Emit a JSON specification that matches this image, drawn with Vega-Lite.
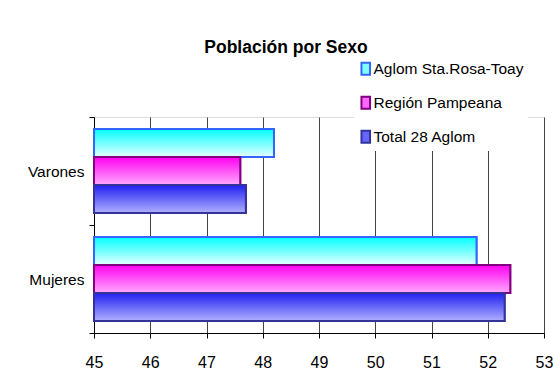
{
  "$schema": "https://vega.github.io/schema/vega-lite/v6.json",
  "width": 450,
  "height": 216,
  "autosize": {"type": "none"},
  "padding": {"left": 94, "top": 117, "right": 9, "bottom": 57},
  "background": "white",
  "title": {
    "text": "Población por Sexo",
    "font": "Liberation Sans",
    "fontSize": 17.5,
    "fontWeight": "bold",
    "color": "black",
    "anchor": "middle",
    "frame": "group",
    "baseline": "alphabetic",
    "dx": -33,
    "offset": -13
  },
  "data": {
    "values": [
      {"Sexo": "Varones", "Serie": "Aglom Sta.Rosa-Toay", "Valor": 48.2},
      {"Sexo": "Varones", "Serie": "Región Pampeana", "Valor": 47.6},
      {"Sexo": "Varones", "Serie": "Total 28 Aglom", "Valor": 47.7},
      {"Sexo": "Mujeres", "Serie": "Aglom Sta.Rosa-Toay", "Valor": 51.8},
      {"Sexo": "Mujeres", "Serie": "Región Pampeana", "Valor": 52.4},
      {"Sexo": "Mujeres", "Serie": "Total 28 Aglom", "Valor": 52.3}
    ]
  },
  "encoding": {
    "y": {
      "field": "Sexo",
      "type": "nominal",
      "sort": ["Varones", "Mujeres"],
      "scale": {"paddingInner": 0, "paddingOuter": 0},
      "axis": {
        "title": null,
        "tickBand": "extent",
        "ticks": true,
        "tickSize": 5,
        "tickColor": "black",
        "domainColor": "black",
        "labelFont": "Liberation Sans",
        "labelFontSize": 15.5,
        "labelColor": "black",
        "labelPadding": 5,
        "grid": false
      }
    },
    "yOffset": {
      "field": "Serie",
      "type": "nominal",
      "sort": ["Aglom Sta.Rosa-Toay", "Región Pampeana", "Total 28 Aglom"],
      "scale": {"domain": ["Aglom Sta.Rosa-Toay", "Región Pampeana", "Total 28 Aglom"], "paddingInner": 0, "paddingOuter": 0.4286}
    },
    "x": {
      "field": "Valor",
      "type": "quantitative",
      "stack": null,
      "scale": {"domain": [45, 53], "zero": false, "nice": false},
      "axis": {
        "title": null,
        "values": [45, 46, 47, 48, 49, 50, 51, 52, 53],
        "grid": true,
        "gridColor": "#444444",
        "gridWidth": 1,
        "domainColor": "black",
        "tickColor": "black",
        "tickSize": 5,
        "labelFont": "Liberation Sans",
        "labelFontSize": 16,
        "labelColor": "black",
        "labelPadding": 16,
        "labelFlush": false,
        "labelOverlap": false
      }
    }
  },
  "layer": [
    {
      "mark": {"type": "bar", "strokeWidth": 2},
      "encoding": {
        "fill": {
          "field": "Serie",
          "type": "nominal",
          "scale": {"domain": ["Aglom Sta.Rosa-Toay", "Región Pampeana", "Total 28 Aglom"], "range": ["#80FFFF", "#FF66FF", "#6666FF"]},
          "legend": {
            "title": null,
            "orient": "none",
            "legendX": 260,
            "legendY": -60,
            "direction": "vertical",
            "labelFont": "Liberation Sans",
            "labelFontSize": 15.5,
            "labelColor": "black",
            "labelLimit": 300,
            "symbolType": "M-0.7,-1H0.7V1H-0.7Z",
            "symbolSize": 150,
            "symbolStrokeWidth": 2,
            "rowPadding": 13,
            "labelOffset": 0,
            "fillColor": "white",
            "padding": 4
          }
        },
        "stroke": {
          "field": "Serie",
          "type": "nominal",
          "scale": {"domain": ["Aglom Sta.Rosa-Toay", "Región Pampeana", "Total 28 Aglom"], "range": ["#3366FF", "#800080", "#333399"]},
          "legend": {
            "title": null,
            "orient": "none",
            "legendX": 260,
            "legendY": -60,
            "direction": "vertical",
            "labelFont": "Liberation Sans",
            "labelFontSize": 15.5,
            "labelColor": "black",
            "labelLimit": 300,
            "symbolType": "M-0.7,-1H0.7V1H-0.7Z",
            "symbolSize": 150,
            "symbolStrokeWidth": 2,
            "rowPadding": 13,
            "labelOffset": 0,
            "fillColor": "white",
            "padding": 4
          }
        }
      }
    },
    {
      "transform": [{"filter": "datum.Serie === 'Aglom Sta.Rosa-Toay'"}],
      "mark": {
        "type": "bar",
        "strokeWidth": 2,
        "stroke": "#3366FF",
        "color": {"gradient": "linear", "x1": 0, "y1": 0, "x2": 0, "y2": 1, "stops": [{"offset": 0, "color": "#00FFFF"}, {"offset": 1, "color": "#E6FFFF"}]}
      }
    },
    {
      "transform": [{"filter": "datum.Serie === 'Región Pampeana'"}],
      "mark": {
        "type": "bar",
        "strokeWidth": 2,
        "stroke": "#800080",
        "color": {"gradient": "linear", "x1": 0, "y1": 0, "x2": 0, "y2": 1, "stops": [{"offset": 0, "color": "#FF00F0"}, {"offset": 1, "color": "#FFAAFF"}]}
      }
    },
    {
      "transform": [{"filter": "datum.Serie === 'Total 28 Aglom'"}],
      "mark": {
        "type": "bar",
        "strokeWidth": 2,
        "stroke": "#333399",
        "color": {"gradient": "linear", "x1": 0, "y1": 0, "x2": 0, "y2": 1, "stops": [{"offset": 0, "color": "#2020F0"}, {"offset": 1, "color": "#B0B0FF"}]}
      }
    }
  ]
}
